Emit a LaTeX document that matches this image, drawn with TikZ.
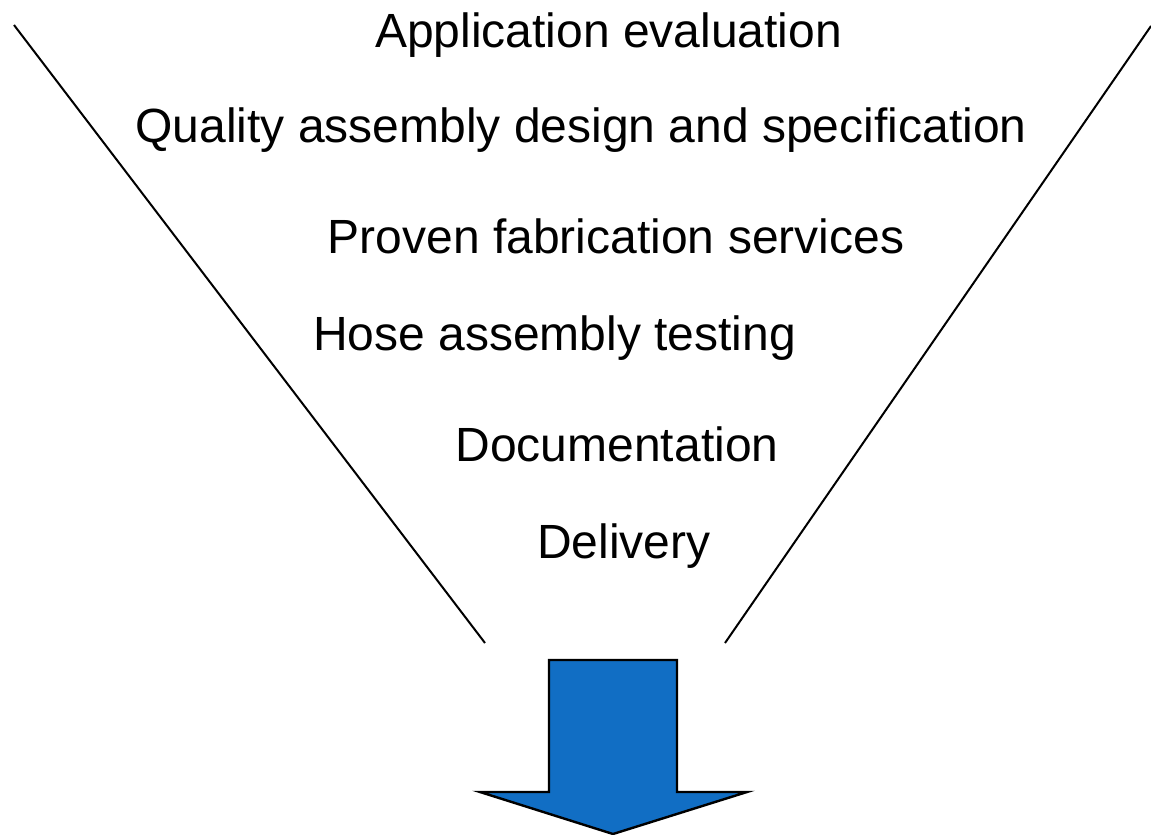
\documentclass[tikz,border=0pt]{standalone}
\usepackage{fontspec}
\setmainfont{Liberation Sans}
\usepackage{xcolor}
\usepackage{tikz}
\usetikzlibrary{positioning, calc}
\definecolor{funnelblue}{RGB}{17,110,196}
\tikzset{
  step label/.style={anchor=base, inner sep=0pt, font=\fontsize{24}{28}\selectfont},
  funnel line/.style={line width=1pt},
}

\begin{document}
\begin{tikzpicture}[x=0.5pt,y=-0.5pt]
      \useasboundingbox (0,0) rectangle (1151,835);

      % funnel sides
      \coordinate (ltop) at (14,25);
      \coordinate (lbot) at (485,643);
      \coordinate (rtop) at (1151,26);
      \coordinate (rbot) at (725,643);
      \draw[funnel line] (ltop) -- (lbot);
      \draw[funnel line] (rtop) -- (rbot);

      % steps
      \node[step label] (appeval) at (608.5,47) {Application evaluation};
      \node[step label] (quality) at (581,142) {Quality assembly design and specification};
      \node[step label] (proven) at (616,253) {Proven fabrication services};
      \node[step label] (hosetest) at (554.5,350) {Hose assembly testing};
      \node[step label] (docs) at (617,461) {Documentation};
      \node[step label] (delivery) at (624,558) {Delivery};

      % output arrow
      \draw[fill=funnelblue,line width=1.2pt,line join=miter]
        (549,660) -- (677,660) -- (677,792) -- (747,792) -- (613,834)
        -- (480,792) -- (549,792) -- cycle;
    \end{tikzpicture}
\end{document}
